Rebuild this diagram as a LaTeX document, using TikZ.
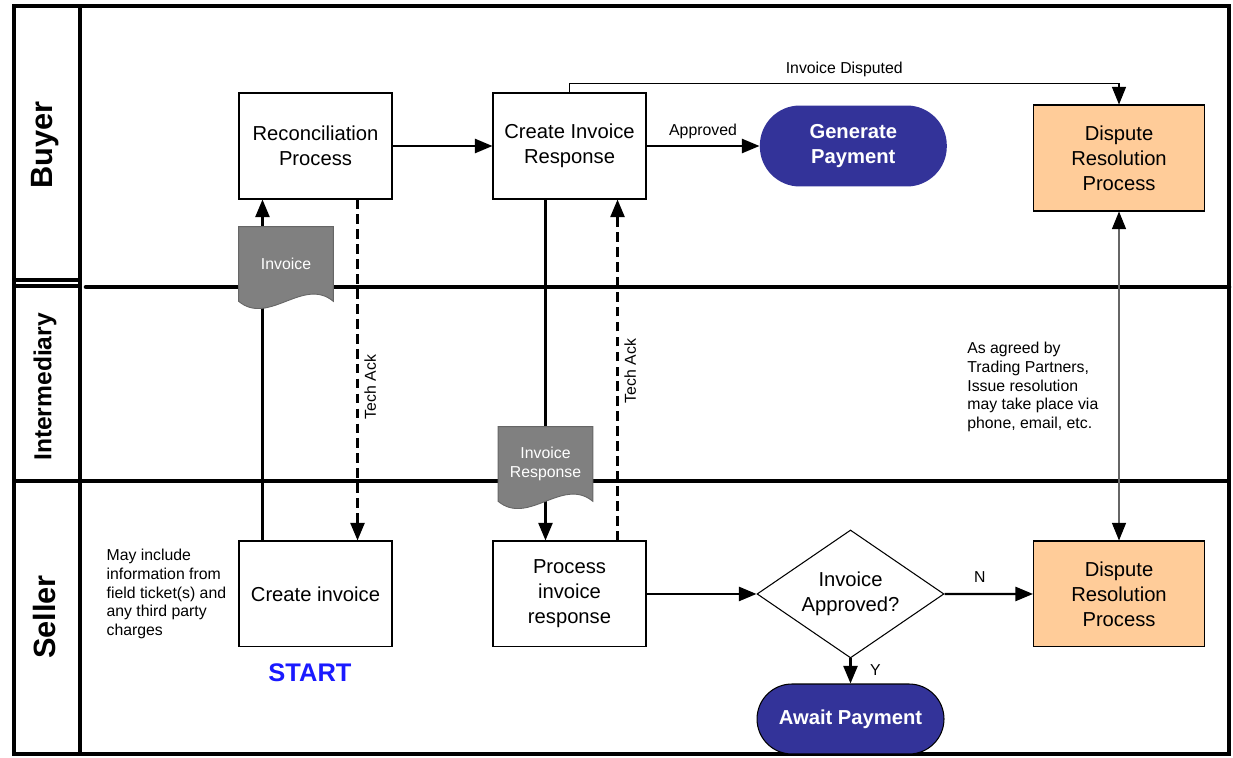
\documentclass[tikz,border=0pt]{standalone}
\usepackage{fontspec}
\setmainfont{Liberation Sans}
\usetikzlibrary{shapes.geometric, arrows.meta, positioning, backgrounds}

\definecolor{docgray}{HTML}{808080}
\definecolor{payblue}{HTML}{333399}
\definecolor{disputefill}{HTML}{FFCC99}
\definecolor{startblue}{HTML}{1A1AFF}

\tikzstyle{process} = [rectangle, minimum width=3.06cm, minimum height=2.12cm, text centered, align=center, draw=black, fill=white, line width=0.6pt, font=\fontsize{11.5}{14.2}\selectfont]
\tikzstyle{dispute} = [process, minimum width=3.42cm, fill=disputefill]
\tikzstyle{terminal} = [rectangle, rounded corners=0.8cm, minimum width=3.74cm, minimum height=1.62cm, align=center, fill=payblue, text=white, font=\fontsize{11.5}{14.2}\selectfont\bfseries]
\tikzstyle{decision} = [diamond, aspect=1.47, minimum width=3.74cm, minimum height=2.56cm, inner sep=0pt, align=center, draw=black, fill=white, line width=0.6pt, font=\fontsize{11.5}{14.2}\selectfont]
\tikzstyle{document} = [rectangle, minimum width=1.88cm, minimum height=1.48cm, align=center, text=white, font=\fontsize{9}{10.8}\selectfont]
\tikzstyle{docshape} = [fill=docgray, draw=black!60, line width=0.5pt]
\tikzstyle{lane} = [rotate=90, font=\fontsize{17.5}{20}\selectfont\bfseries]
\tikzstyle{note} = [align=left, inner sep=0pt, font=\fontsize{9}{10.6}\selectfont]
\tikzstyle{smalllabel} = [font=\fontsize{9}{10.6}\selectfont]
\tikzstyle{acklabel} = [smalllabel, rotate=90, anchor=north]
\tikzstyle{arrow} = [line width=1.3pt, -{Triangle[length=10pt, width=8pt]}]
\tikzstyle{ack} = [arrow, dash pattern=on 5.5pt off 3pt]
\tikzstyle{thinarrow} = [line width=0.6pt, -{Triangle[length=10pt, width=8pt]}]
\tikzstyle{divider} = [line width=2.6pt]

\begin{document}
\begin{tikzpicture}[x=0.02cm, y=-0.02cm]
\useasboundingbox (0,0) rectangle (1233,757);

% lane labels
\node (buyer) [lane] at (45,145) {Buyer};
\node (intermediary) [lane, font=\fontsize{14}{16}\selectfont\bfseries] at (45,387) {Intermediary};
\node (seller) [lane] at (45,617) {Seller};

% buyer lane
\node (recon) [process] at (315.5,146) {Reconciliation\\Process};
\node (cir) [process, right=2cm of recon] {Create Invoice\\Response};
\node (genpay) [terminal, right=2.26cm of cir] {Generate\\Payment};
\node (disputeb) [dispute] at (1119,158) {Dispute\\Resolution\\Process};

% seller lane
\node (create) [process, below=6.82cm of recon] {Create invoice};
\node (proc) [process, below=6.82cm of cir] {Process\\invoice\\response};
\node (approved) [decision, right=2.2cm of proc] {Invoice\\Approved?};
\node (disputes) [dispute, below=6.58cm of disputeb] {Dispute\\Resolution\\Process};
\node (await) [terminal, minimum height=1.4cm, rounded corners=0.7cm, draw=black, line width=0.6pt, below=0.5cm of approved] {Await Payment};
\node (start) [below=0.2cm of create, xshift=-0.11cm, text=startblue, font=\fontsize{14.5}{16}\selectfont\bfseries] {START};

% messages
\node (inv) [document] at (286,264) {Invoice};
\node (invresp) [document] at (545.5,464) {Invoice\\Response};

% notes
\node (notecreate) [note, left=0.24cm of create] {May include\\information from\\field ticket(s) and\\any third party\\charges};
\node (noteagree) [note, anchor=west] at (967,387) {As agreed by\\Trading Partners,\\Issue resolution\\may take place via\\phone, email, etc.};

\begin{scope}[on background layer]
% pool and lanes
\draw[line width=2.4pt] (14,6) rectangle (1229,754);
\draw[divider] (80,6) -- (80,754);
\draw[line width=2pt] (14,280) -- (80,280);
\draw[line width=2pt] (14,286) -- (80,286);
\draw[divider, line cap=round] (86,287) -- (1229,287);
\draw[divider] (14,481) -- (1229,481);

\draw [arrow] ([xshift=0.48cm]create.north west) -- ([xshift=0.48cm]recon.south west);
\draw [arrow] ([xshift=1.06cm]cir.south west) -- ([xshift=1.06cm]proc.north west);

\filldraw[docshape] (inv.south west) -- (inv.north west) -- (inv.north east) -- (inv.south east) .. controls +(-30,-25) and +(30,25) .. (inv.south west) -- cycle;
\filldraw[docshape] (invresp.south west) -- (invresp.north west) -- (invresp.north east) -- (invresp.south east) .. controls +(-30,-25) and +(30,25) .. (invresp.south west) -- cycle;
\end{scope}

\draw [ack] ([xshift=-0.7cm]recon.south east) -- node[acklabel, pos=0.55] {Tech Ack} ([xshift=-0.7cm]create.north east);
\draw [ack] ([xshift=-0.58cm]proc.north east) -- node[acklabel, pos=0.46, xshift=0.25cm] {Tech Ack} ([xshift=-0.58cm]cir.south east);

\draw [arrow] (recon) -- (cir);
\draw [arrow] (cir) -- node[smalllabel, above] {Approved} (genpay);
\draw [thinarrow] (cir.north) -- ++(0,-9) -| node[smalllabel, pos=0.25, above] {Invoice Disputed} (disputeb.north);
\draw [line width=0.6pt, draw=black!60, {Triangle[length=10pt, width=8pt, color=black]}-{Triangle[length=10pt, width=8pt, color=black]}] (disputeb) -- (disputes);

\draw [arrow] (proc) -- (approved);
\draw [arrow] (approved) -- node[smalllabel, above, pos=0.4, yshift=0.08cm] {N} (disputes);
\draw [arrow] (approved) -- node[smalllabel, right, pos=0.45, xshift=0.25cm] {Y} (await);

\end{tikzpicture}
\end{document}
